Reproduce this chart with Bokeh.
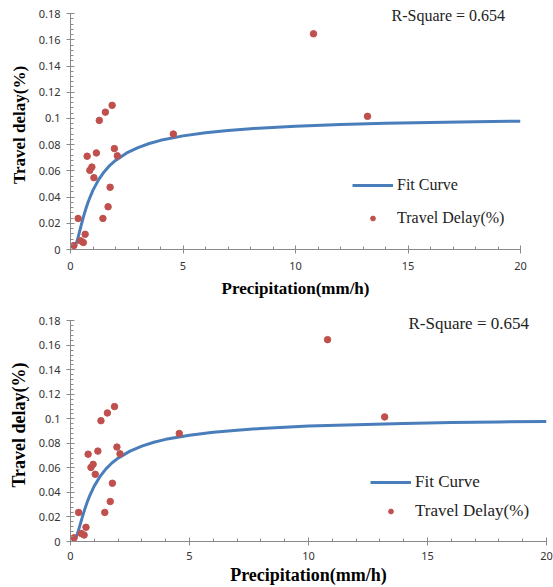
from bokeh.plotting import figure
from bokeh.layouts import column
from bokeh.models import Range1d, FixedTicker, Legend, LegendItem, Label
from bokeh.embed import file_html
from bokeh.resources import INLINE

# observed data
precip = [0.15, 0.34, 0.45, 0.57, 0.65, 0.74, 0.86, 0.95, 1.04, 1.15, 1.28, 1.44,
          1.55, 1.67, 1.76, 1.85, 1.95, 2.08, 4.57, 10.8, 13.2]
delay = [0.003, 0.0237, 0.0066, 0.0053, 0.0116, 0.0712, 0.0604, 0.0629, 0.0548,
         0.0737, 0.0985, 0.0237, 0.1048, 0.0326, 0.0475, 0.110, 0.077, 0.0715,
         0.0881, 0.1646, 0.1016]

# fit curve
fit_x = [0.19, 0.3, 0.4, 0.5, 0.6, 0.7, 0.8, 1.0, 1.25, 1.5, 1.75, 2.0, 2.5, 3.0,
         3.5, 4.0, 5.0, 6.0, 7.0, 8.0, 10.0, 12.0, 14.0, 16.0, 18.0, 20.0]
fit_y = [0.0014, 0.0068, 0.0134, 0.0201, 0.0264, 0.0320, 0.0370, 0.0453, 0.0533,
         0.0594, 0.0642, 0.0680, 0.0737, 0.0778, 0.0809, 0.0833, 0.0867, 0.0891,
         0.0908, 0.0922, 0.0941, 0.0953, 0.0963, 0.0970, 0.0975, 0.0979]

x_ticks = [0, 5, 10, 15, 20]
x_minor = [1, 2, 3, 4, 6, 7, 8, 9, 11, 12, 13, 14, 16, 17, 18, 19]
y_ticks = [0, 0.02, 0.04, 0.06, 0.08, 0.1, 0.12, 0.14, 0.16, 0.18]
y_tick_labels = ["0", "0.02", "0.04", "0.06", "0.08", "0.1", "0.12", "0.14", "0.16", "0.18"]
y_minor = [round(i * 0.004, 3) for i in range(46)]

r_text = "R-Square = 0.654"

BLUE = "#4a7ebb"
RED = "#c0504d"
AXIS = "#8a8a8a"
SERIF = "Liberation Serif"
SANS = "Noto Sans"


def make(fw, fh, bl, br, bt, bb, legend_xy, legend_spacing, rx, ry, title_size, txt_size,
         x_lab_standoff, x_title_standoff):
    p = figure(frame_width=fw, frame_height=fh, min_border_left=bl, min_border_right=br,
               min_border_top=bt, min_border_bottom=bb,
               x_range=Range1d(0, 20), y_range=Range1d(0, 0.19),
               output_backend="svg", toolbar_location=None)
    p.outline_line_color = None
    p.xgrid.visible = False
    p.ygrid.visible = False
    p.background_fill_color = "white"
    p.border_fill_color = "white"

    ln = p.line(fit_x, fit_y, line_color=BLUE, line_width=3)
    sc = p.scatter(precip, delay, size=6.5, fill_color=RED, line_color=RED)

    xa = p.xaxis[0]
    xa.ticker = FixedTicker(ticks=x_ticks, minor_ticks=x_minor)
    ya = p.yaxis[0]
    ya.ticker = FixedTicker(ticks=y_ticks, minor_ticks=y_minor)
    ya.bounds = (0, 0.18)
    ya.major_label_overrides = {t: s for t, s in zip(y_ticks, y_tick_labels)}
    xa.major_label_overrides = {t: str(t) for t in x_ticks}

    for ax in (xa, ya):
        ax.axis_line_color = AXIS
        ax.major_tick_line_color = AXIS
        ax.minor_tick_line_color = AXIS
        ax.major_tick_in = 4
        ax.major_tick_out = 4
        ax.minor_tick_in = 3
        ax.minor_tick_out = 0
        ax.major_label_text_font = SANS
        ax.major_label_text_font_size = "11px"
        ax.major_label_text_color = "#333333"
        ax.major_label_standoff = 6
        ax.axis_label_text_font = SERIF
        ax.axis_label_text_font_style = "bold"
        ax.axis_label_text_font_size = title_size
        ax.axis_label_text_color = "black"
    xa.axis_label = "Precipitation(mm/h)"
    ya.axis_label = "Travel delay(%)"
    xa.major_label_standoff = x_lab_standoff
    xa.axis_label_standoff = x_title_standoff
    ya.axis_label_standoff = 7

    legend = Legend(items=[LegendItem(label="Fit Curve", renderers=[ln]),
                           LegendItem(label="Travel Delay(%)", renderers=[sc])],
                    location=legend_xy, glyph_width=41, glyph_height=12,
                    label_height=20, spacing=legend_spacing, padding=0, margin=0,
                    label_standoff=4, border_line_color=None,
                    background_fill_alpha=0, label_text_font=SERIF,
                    label_text_font_size=txt_size, label_text_color="#222222")
    p.add_layout(legend, "center")

    p.add_layout(Label(x=rx, y=ry, text=r_text, text_font=SERIF, text_font_size=txt_size,
                       text_align="left", text_baseline="middle", text_color="#222222"))
    return p


top = make(450, 249, 67, 36, 0, 51, (282, 21), 13, 14.27, 0.1785, "17px", "16px", 8, 6)
bottom = make(476, 233, 70, 7, 8, 46, (300, 20), 9, 14.2, 0.1776, "18px", "17px", 6, 2)

layout = column(top, bottom, spacing=0)
open("out.html", "w").write(file_html(layout, INLINE))
